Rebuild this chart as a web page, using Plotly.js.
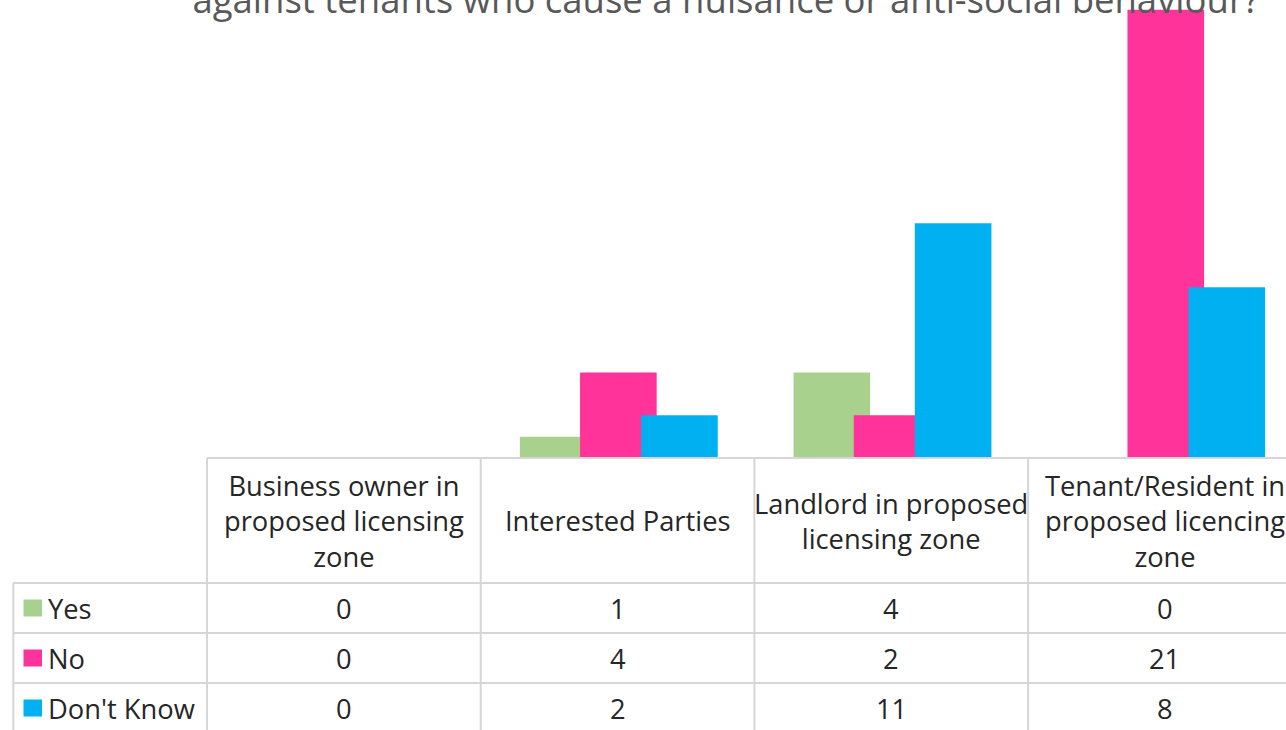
<!DOCTYPE html>
<html><head><meta charset="utf-8">
<script src="https://cdn.plot.ly/plotly-3.0.1.min.js"></script>
<style>html,body{margin:0;padding:0;background:#fff;overflow:hidden}#chart{width:1286px;height:730px}</style>
</head><body><div id="chart"></div>
<script>
// ---- data ----
const categories = [
  "Business owner in<br>proposed licensing<br>zone",
  "Interested Parties",
  "Landlord in proposed<br>licensing zone",
  "Tenant/Resident in<br>proposed licencing<br>zone"
];
const seriesNames = ["Yes", "No", "Don't Know"];
const yesValues = [0, 1, 4, 0];
const noValues = [0, 4, 2, 21];
const dontKnowValues = [0, 2, 11, 8];
const seriesColors = ["#a9d18e", "#ff3399", "#00b0f0"];
const titleText = "against tenants who cause a nuisance or anti-social behaviour?";

// ---- layout constants ----
const W = 1286, H = 730;
const marginL = 207, marginB = 272;
const plotH = H - marginB;           // plot height in px
const plotW = W - marginL;
const pxPerUnit = 21.35;
const headerH = 125, rowH = 50;
const tableLeftPx = 13.3;
const barWidth = 0.28;
const barOffsets = [-0.357, -0.137, 0.086];
const tableFont = {family: "Open Sans, sans-serif", size: 27.3, color: "#262626"};
const lineColor = "#d6d6d6";

const allValues = [yesValues, noValues, dontKnowValues];
const xIdx = categories.map((_, i) => i);

const py = p => (plotH - p) / plotH;         // pixel row -> paper y
const pxX = p => (p - marginL) / plotW;      // pixel col -> paper x

const traces = allValues.map((vals, s) => ({
  type: "bar",
  name: seriesNames[s],
  x: xIdx,
  y: vals,
  width: barWidth,
  offset: barOffsets[s],
  marker: {color: seriesColors[s], line: {width: 0}},
  hoverinfo: "x+y+name"
}));

const headerTop = plotH;
const headerBottom = headerTop + headerH;
const rowTops = seriesNames.map((_, s) => headerBottom + s * rowH);
const tableBottom = headerBottom + seriesNames.length * rowH + 10;

const shapes = [];
const line = {color: lineColor, width: 2};
// top line of table (axis line)
shapes.push({type: "line", xref: "paper", yref: "paper", x0: 0, x1: 1.05, y0: 0, y1: 0, line});
// row separators
rowTops.forEach(t => shapes.push({type: "line", xref: "paper", yref: "paper",
  x0: pxX(tableLeftPx), x1: 1.05, y0: py(t), y1: py(t), line}));
// left border of series column
shapes.push({type: "line", xref: "paper", yref: "paper",
  x0: pxX(tableLeftPx), x1: pxX(tableLeftPx), y0: py(headerBottom), y1: py(tableBottom), line});
// left edge of plot / header
shapes.push({type: "line", xref: "paper", yref: "paper", x0: 0, x1: 0, y0: 0, y1: py(tableBottom), line});
// category boundaries
xIdx.slice(1).forEach(i => shapes.push({type: "line", xref: "x", yref: "paper",
  x0: i - 0.5, x1: i - 0.5, y0: 0, y1: py(tableBottom), line}));
// legend keys
seriesNames.forEach((n, s) => {
  const c = rowTops[s] + rowH / 2;
  shapes.push({type: "rect", xref: "paper", yref: "paper",
    x0: pxX(23.5), x1: pxX(42), y0: py(c - 8.5), y1: py(c + 8.5),
    fillcolor: seriesColors[s], line: {width: 0}});
});

const annotations = [];
categories.forEach((c, i) => annotations.push({xref: "x", yref: "paper", x: i,
  y: py(headerTop + headerH / 2), text: c, showarrow: false, xanchor: "center",
  yanchor: "middle", align: "center", font: tableFont}));
seriesNames.forEach((n, s) => {
  const c = py(rowTops[s] + rowH / 2);
  annotations.push({xref: "paper", yref: "paper", x: pxX(45.5), y: c, text: n,
    showarrow: false, xanchor: "left", yanchor: "middle", font: tableFont});
  allValues[s].forEach((v, i) => annotations.push({xref: "x", yref: "paper", x: i, y: c,
    text: String(v), showarrow: false, xanchor: "center", yanchor: "middle", font: tableFont}));
});

const layout = {
  width: W, height: H,
  margin: {l: marginL, r: 0, t: 0, b: marginB, pad: 0},
  paper_bgcolor: "#ffffff", plot_bgcolor: "#ffffff",
  barmode: "overlay",
  showlegend: false,
  title: {text: titleText, x: 726 / W, xanchor: "center", y: 1, yref: "container",
    yanchor: "middle", font: {family: "Open Sans, sans-serif", size: 36.5, color: "#595959"}},
  xaxis: {range: [-0.5, (W - marginL) / 273.7 - 0.5], visible: false, fixedrange: true},
  yaxis: {range: [0, plotH / pxPerUnit], visible: false, fixedrange: true},
  shapes, annotations
};

Plotly.newPlot("chart", traces, layout, {displayModeBar: false, staticPlot: true});
</script></body></html>
